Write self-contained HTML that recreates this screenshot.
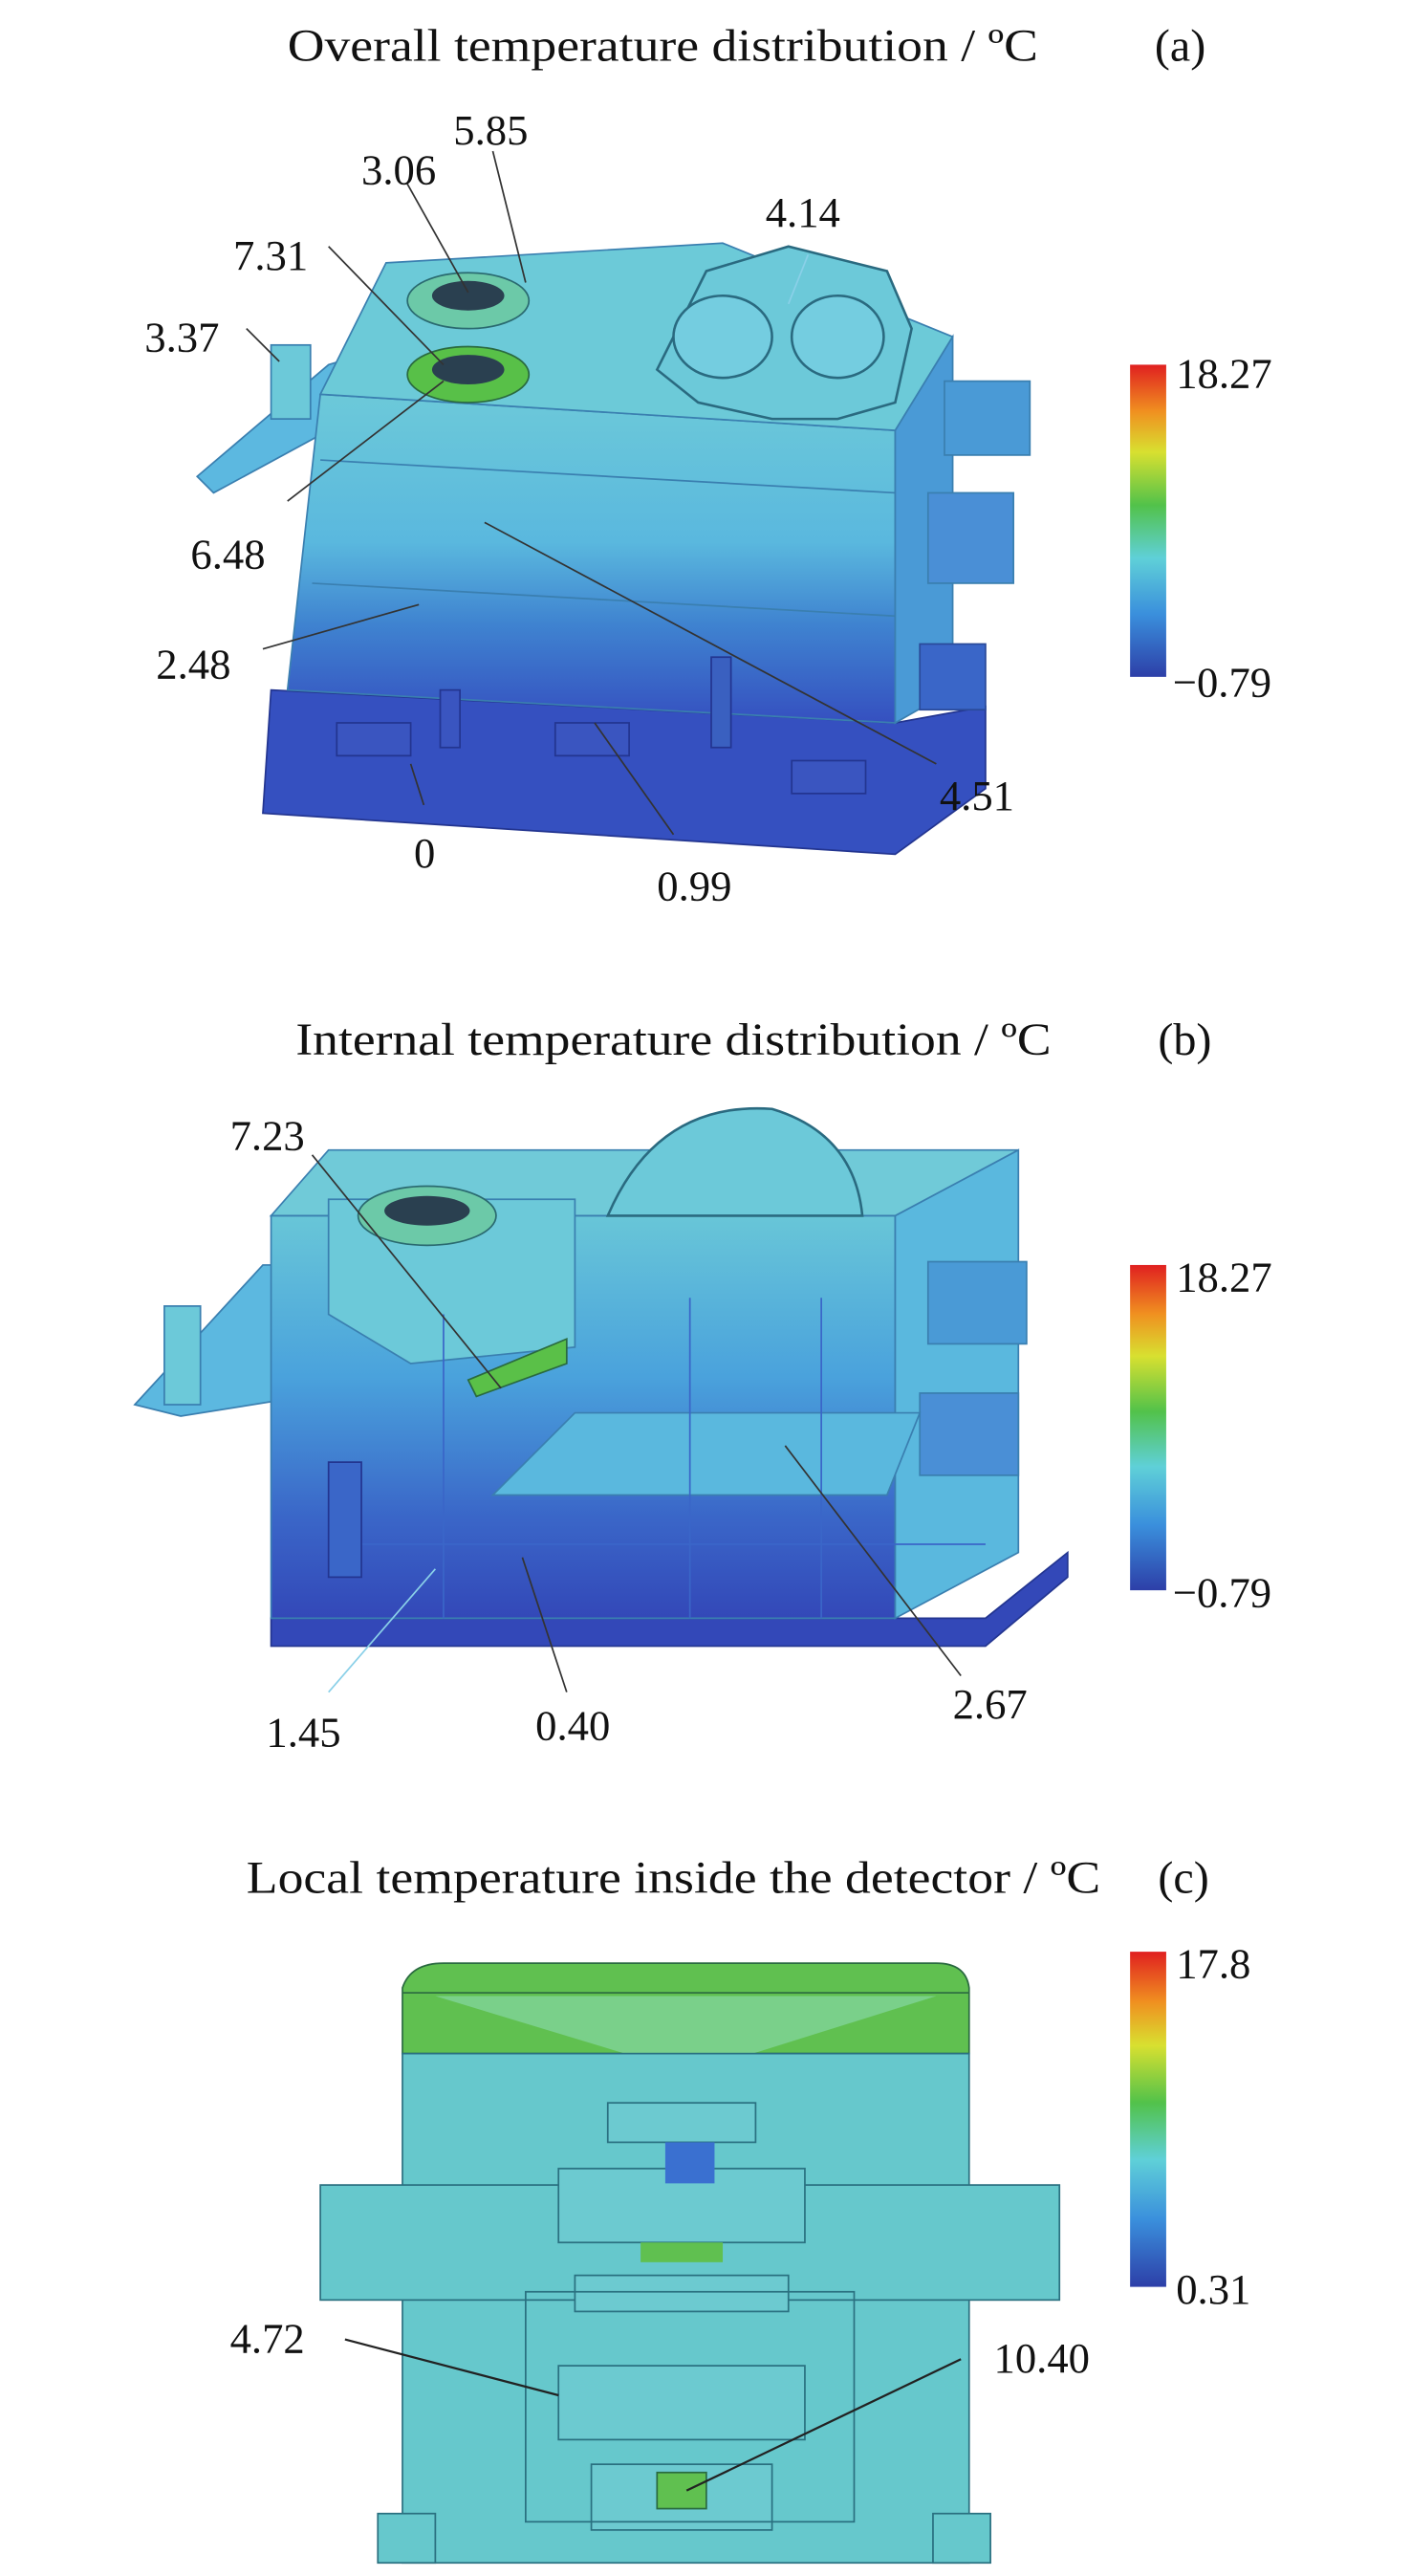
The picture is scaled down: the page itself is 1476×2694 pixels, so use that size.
<!DOCTYPE html>
<html><head><meta charset="utf-8">
<style>
html,body{margin:0;padding:0;background:#fff;}
svg{display:block;}
text{font-family:"Liberation Serif",serif;fill:#111;}
</style></head>
<body>
<svg width="1476" height="2694" viewBox="0 0 859 1568" xmlns="http://www.w3.org/2000/svg">
<defs>
<linearGradient id="cb" x1="0" y1="1" x2="0" y2="0">
<stop offset="0" stop-color="#2d3fa8"/>
<stop offset="0.2" stop-color="#3a8fdc"/>
<stop offset="0.38" stop-color="#5fd0d8"/>
<stop offset="0.55" stop-color="#52c24a"/>
<stop offset="0.72" stop-color="#d8e030"/>
<stop offset="0.85" stop-color="#f09020"/>
<stop offset="1" stop-color="#e02020"/>
</linearGradient>
<linearGradient id="bodyA" x1="0" y1="0" x2="0" y2="1">
<stop offset="0" stop-color="#6cc9d9"/>
<stop offset="0.45" stop-color="#5ab8de"/>
<stop offset="0.7" stop-color="#3f83d0"/>
<stop offset="1" stop-color="#3550c0"/>
</linearGradient>
<linearGradient id="bodyB" x1="0" y1="0" x2="0" y2="1">
<stop offset="0" stop-color="#68c6d8"/>
<stop offset="0.4" stop-color="#4aa2dc"/>
<stop offset="0.75" stop-color="#3a66c8"/>
<stop offset="1" stop-color="#3348b8"/>
</linearGradient>
</defs>

<!-- ===== Panel A ===== -->
<text x="175" y="37" font-size="28" textLength="457" lengthAdjust="spacingAndGlyphs">Overall temperature distribution / ºC</text>
<text x="703" y="37" font-size="28">(a)</text>
<polygon points="120,290 200,222 240,210 200,262 130,300" fill="#5cb8e0" stroke="#3a7fb0" stroke-width="1"/>
<rect x="165" y="210" width="24" height="45" fill="#6cc9d9" stroke="#3a7fb0"/>
<polygon points="165,420 545,440 600,430 600,480 545,520 160,495" fill="#3550c0" stroke="#233590"/>
<polygon points="195,240 545,262 545,440 175,420" fill="url(#bodyA)" stroke="#3a7fb0"/>
<polygon points="235,160 440,148 580,205 545,262 195,240" fill="#6ccad8" stroke="#3a7fb0"/>
<line x1="195" y1="280" x2="545" y2="300" stroke="#3a7fb0"/>
<line x1="190" y1="355" x2="545" y2="375" stroke="#3a7fb0"/>
<polygon points="545,262 580,205 580,420 545,440" fill="#4a9ad6" stroke="#3a7fb0"/>
<rect x="575" y="232" width="52" height="45" fill="#4a9ad6" stroke="#3a7fb0"/>
<rect x="565" y="300" width="52" height="55" fill="#4a8fd6" stroke="#3a7fb0"/>
<rect x="560" y="392" width="40" height="40" fill="#3a66c8" stroke="#2a4a9a"/>
<rect x="205" y="440" width="45" height="20" fill="#3a55c0" stroke="#233590"/>
<rect x="338" y="440" width="45" height="20" fill="#3a55c0" stroke="#233590"/>
<rect x="482" y="463" width="45" height="20" fill="#3a55c0" stroke="#233590"/>
<rect x="268" y="420" width="12" height="35" fill="#3a55c0" stroke="#233590"/>
<rect x="433" y="400" width="12" height="55" fill="#3a60c0" stroke="#233590"/>
<ellipse cx="285" cy="183" rx="37" ry="17" fill="#6cc9a8" stroke="#2a6a70"/>
<ellipse cx="285" cy="180" rx="22" ry="9" fill="#2a4050"/>
<ellipse cx="285" cy="228" rx="37" ry="17" fill="#58c048" stroke="#2a6a40"/>
<ellipse cx="285" cy="225" rx="22" ry="9" fill="#2a4050"/>
<polygon points="400,225 430,165 480,150 540,165 555,200 545,245 510,255 470,255 425,245" fill="#6cc9d9" stroke="#2a6a80" stroke-width="1.5"/>
<ellipse cx="440" cy="205" rx="30" ry="25" fill="#74cde0" stroke="#2a6a80" stroke-width="1.5"/>
<ellipse cx="510" cy="205" rx="28" ry="25" fill="#74cde0" stroke="#2a6a80" stroke-width="1.5"/>
<g stroke="#333" stroke-width="1">
<line x1="150" y1="200" x2="170" y2="220"/>
<line x1="200" y1="150" x2="270" y2="222"/>
<line x1="248" y1="112" x2="285" y2="178"/>
<line x1="300" y1="92" x2="320" y2="172"/>
<line x1="175" y1="305" x2="270" y2="232"/>
<line x1="160" y1="395" x2="255" y2="368"/>
<line x1="295" y1="318" x2="570" y2="465"/>
<line x1="250" y1="465" x2="258" y2="490"/>
<line x1="362" y1="440" x2="410" y2="508"/>
</g>
<line x1="480" y1="185" x2="492" y2="155" stroke="#8ad0e8"/>
<g font-size="26">
<text x="88" y="214">3.37</text>
<text x="142" y="164">7.31</text>
<text x="220" y="112">3.06</text>
<text x="276" y="88">5.85</text>
<text x="466" y="138">4.14</text>
<text x="116" y="346">6.48</text>
<text x="95" y="413">2.48</text>
<text x="572" y="493">4.51</text>
<text x="252" y="528">0</text>
<text x="400" y="548">0.99</text>
</g>
<rect x="688" y="222" width="22" height="190" fill="url(#cb)"/>
<text x="716" y="236" font-size="26">18.27</text>
<text x="714" y="424" font-size="26">−0.79</text>

<!-- ===== Panel B ===== -->
<text x="180" y="642" font-size="28" textLength="460" lengthAdjust="spacingAndGlyphs">Internal temperature distribution / ºC</text>
<text x="705" y="642" font-size="28">(b)</text>
<polygon points="82,855 160,770 185,770 185,850 110,862" fill="#5cb8e0" stroke="#3a7fb0"/>
<rect x="100" y="795" width="22" height="60" fill="#6cc9d9" stroke="#3a7fb0"/>
<polygon points="165,985 600,985 650,945 650,960 600,1002 165,1002" fill="#3348b8" stroke="#233590"/>
<polygon points="165,740 545,740 545,985 165,985" fill="url(#bodyB)" stroke="#3a7fb0"/>
<polygon points="545,740 620,700 620,945 545,985" fill="#5ab8de" stroke="#3a7fb0"/>
<polygon points="165,740 200,700 620,700 545,740" fill="#70cad8" stroke="#3a7fb0"/>
<rect x="565" y="768" width="60" height="50" fill="#4a9ad6" stroke="#3a7fb0"/>
<rect x="560" y="848" width="60" height="50" fill="#4a8fd6" stroke="#3a7fb0"/>
<polygon points="200,730 350,730 350,820 250,830 200,800" fill="#6cc9d9" stroke="#3a7fb0"/>
<polygon points="300,910 350,860 560,860 540,910" fill="#5ab8de" stroke="#3a7fb0"/>
<polygon points="285,840 345,815 345,830 290,850" fill="#5ac048" stroke="#2a6a40"/>
<ellipse cx="260" cy="740" rx="42" ry="18" fill="#6cc9a8" stroke="#2a6a70"/>
<ellipse cx="260" cy="737" rx="26" ry="9" fill="#2a4050"/>
<path d="M370,740 Q400,670 470,675 Q520,690 525,740 Z" fill="#6cc9d9" stroke="#2a6a80" stroke-width="1.5"/>
<g stroke="#3a66c8"><line x1="270" y1="800" x2="270" y2="985"/><line x1="420" y1="790" x2="420" y2="985"/><line x1="500" y1="790" x2="500" y2="985"/><line x1="200" y1="940" x2="600" y2="940"/></g>
<rect x="200" y="890" width="20" height="70" fill="#3a66c8" stroke="#233590"/>
<g stroke="#333" stroke-width="1">
<line x1="190" y1="703" x2="305" y2="845"/>
<line x1="345" y1="1030" x2="318" y2="948"/>
<line x1="585" y1="1020" x2="478" y2="880"/>
</g>
<line x1="200" y1="1030" x2="265" y2="955" stroke="#8ad0e8"/>
<g font-size="26">
<text x="140" y="700">7.23</text>
<text x="162" y="1063">1.45</text>
<text x="326" y="1059">0.40</text>
<text x="580" y="1046">2.67</text>
</g>
<rect x="688" y="770" width="22" height="198" fill="url(#cb)"/>
<text x="716" y="786" font-size="26">18.27</text>
<text x="714" y="978" font-size="26">−0.79</text>

<!-- ===== Panel C ===== -->
<text x="150" y="1152" font-size="28" textLength="520" lengthAdjust="spacingAndGlyphs">Local temperature inside the detector / ºC</text>
<text x="705" y="1152" font-size="28">(c)</text>
<path d="M245,1250 L245,1210 Q250,1195 270,1195 L570,1195 Q588,1195 590,1210 L590,1250 Z" fill="#60c050" stroke="#2a6a40"/>
<line x1="245" y1="1213" x2="590" y2="1213" stroke="#2a6a40"/>
<polygon points="265,1215 570,1215 420,1262" fill="#7ad08a"/>
<rect x="245" y="1250" width="345" height="310" fill="#66c8cc" stroke="#2a7080"/>
<rect x="195" y="1330" width="450" height="70" fill="#66c8cc" stroke="#2a7080"/>
<rect x="230" y="1530" width="35" height="30" fill="#66c8cc" stroke="#2a7080"/>
<rect x="568" y="1530" width="35" height="30" fill="#66c8cc" stroke="#2a7080"/>
<g fill="#6ccad0" stroke="#2a7080">
<rect x="370" y="1280" width="90" height="24"/>
<rect x="340" y="1320" width="150" height="45"/>
<rect x="350" y="1385" width="130" height="22"/>
<rect x="340" y="1440" width="150" height="45"/>
<rect x="360" y="1500" width="110" height="40"/>
</g>
<rect x="405" y="1304" width="30" height="25" fill="#3a70d0"/>
<rect x="390" y="1365" width="50" height="12" fill="#60c050"/>
<rect x="400" y="1505" width="30" height="22" fill="#60c050" stroke="#2a6a40"/>
<rect x="320" y="1395" width="200" height="140" fill="none" stroke="#2a7080"/>
<g stroke="#222" stroke-width="1.3">
<line x1="210" y1="1424" x2="340" y2="1458"/>
<line x1="585" y1="1436" x2="418" y2="1516"/>
</g>
<text x="140" y="1432" font-size="26">4.72</text>
<text x="605" y="1444" font-size="26">10.40</text>
<rect x="688" y="1188" width="22" height="204" fill="url(#cb)"/>
<text x="716" y="1204" font-size="26">17.8</text>
<text x="716" y="1402" font-size="26">0.31</text>
</svg>
</body></html>
